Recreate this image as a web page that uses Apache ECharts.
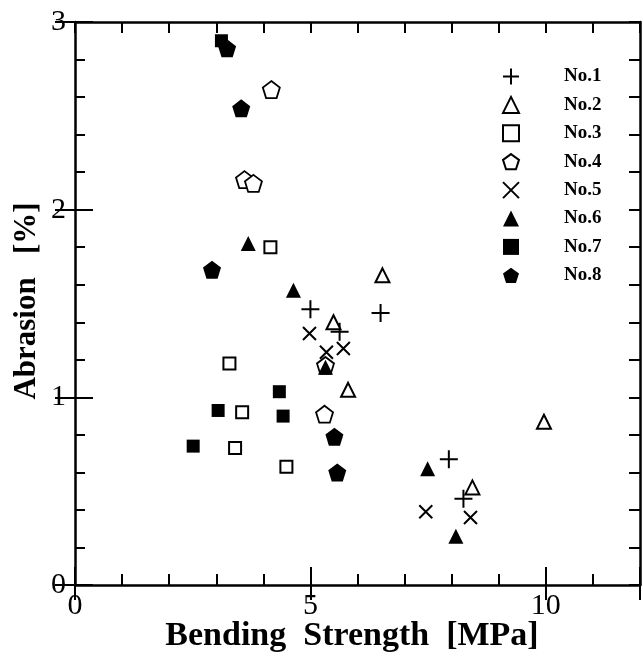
<!DOCTYPE html>
<html>
<head>
<meta charset="utf-8">
<script src="https://cdn.jsdelivr.net/npm/echarts@6/dist/echarts.min.js"></script>
<style>html,body{margin:0;padding:0;background:#fff}#c{width:643px;height:657px}</style>
</head>
<body>
<div id="c"></div>
<script>
// Data: [bending strength MPa, abrasion %]
const seriesNames = ['No.1','No.2','No.3','No.4','No.5','No.6','No.7','No.8'];
const no1 = [[5.00,1.47],[6.49,1.45],[5.62,1.35],[7.94,0.67],[8.25,0.46]];
const no2 = [[6.53,1.65],[5.49,1.40],[5.80,1.04],[9.96,0.87],[8.44,0.52]];
const no3 = [[4.15,1.80],[3.28,1.18],[3.55,0.92],[3.40,0.73],[4.49,0.63]];
const no4 = [[4.17,2.64],[3.60,2.16],[3.79,2.14],[5.32,1.17],[5.30,0.91]];
const no5 = [[4.98,1.34],[5.34,1.24],[5.70,1.26],[7.45,0.39],[8.40,0.36]];
const no6 = [[3.68,1.82],[4.64,1.57],[5.32,1.16],[7.49,0.62],[8.09,0.26]];
const no7 = [[3.11,2.90],[2.51,0.74],[3.04,0.93],[4.34,1.03],[4.42,0.90]];
const no8 = [[3.23,2.86],[3.53,2.54],[2.91,1.68],[5.51,0.79],[5.57,0.60]];
const xTickLabels = ['0','5','10'];
const yTickLabels = ['0','1','2','3'];

const seriesData = [no1,no2,no3,no4,no5,no6,no7,no8];
const PLUS = 'path://M0,5 L10,5 M5,0 L5,10';
const CROSS = 'path://M0,0 L10,10 M10,0 L0,10';
const PENT = 'path://M5,0 L10,3.63 L8.09,9.51 L1.91,9.51 L0,3.63 Z';
const styles = [
  {symbol: PLUS, size: 18, color: 'rgba(0,0,0,0)', border: 2},
  {symbol: 'triangle', size: 14, color: '#fff', border: 2},
  {symbol: 'rect', size: 12, color: '#fff', border: 2},
  {symbol: PENT, size: 17, color: '#fff', border: 1.8},
  {symbol: CROSS, size: 13, color: 'rgba(0,0,0,0)', border: 2},
  {symbol: 'triangle', size: 15, color: '#000', border: 0},
  {symbol: 'rect', size: 13, color: '#000', border: 0},
  {symbol: PENT, size: 18, color: '#000', border: 0}
];

const font = 'Liberation Serif';
const lineStyle = {color: '#000', width: 2.5};
const tickRich = {t: {fontFamily: font, fontSize: 30, color: '#000', lineHeight: 30}};
function intLabel(v){ return Math.abs(v - Math.round(v)) < 1e-6 ? String(Math.round(v)) : ''; }

const chart = echarts.init(document.getElementById('c'), null, {renderer: 'canvas'});
chart.setOption({
  animation: false,
  backgroundColor: '#fff',
  grid: {left: 75, right: 3, top: 22, bottom: 72},
  legend: {
    orient: 'vertical', left: 502, top: 67, padding: 0,
    itemWidth: 16, itemHeight: 16, itemGap: 9.4,
    data: seriesNames,
    textStyle: {fontFamily: font, fontWeight: 'bold', fontSize: 19, color: '#000',
      lineHeight: 16, padding: [0, 0, 0, 40]}
  },
  xAxis: [
    {type: 'value', position: 'bottom', min: 0, max: 12, interval: 1,
     axisLine: {onZero: false, lineStyle}, splitLine: {show: false},
     axisTick: {inside: true, length: 11, lineStyle: {width: 2, color: '#000'}},
     axisLabel: {margin: 6, fontFamily: font, fontSize: 30, color: '#000', rich: tickRich,
       formatter: v => xTickLabels.includes(String(v)) ? '{t|' + v + '}' : ''}},
    {type: 'value', position: 'bottom', min: 0, max: 12, interval: 5,
     axisLine: {show: false}, splitLine: {show: false}, axisLabel: {show: false},
     axisTick: {inside: true, length: 18, lineStyle: {width: 2, color: '#000'}}},
    {type: 'value', position: 'top', min: 0, max: 12, interval: 1,
     axisLine: {onZero: false, lineStyle}, splitLine: {show: false}, axisLabel: {show: false},
     axisTick: {inside: true, length: 11, lineStyle: {width: 2, color: '#000'}}},
    {type: 'value', position: 'top', min: 0, max: 12, interval: 5,
     axisLine: {show: false}, splitLine: {show: false}, axisLabel: {show: false},
     axisTick: {inside: true, length: 15, lineStyle: {width: 2, color: '#000'}}}
  ],
  yAxis: [
    {type: 'value', position: 'left', min: 0, max: 3, interval: 0.2,
     axisLine: {onZero: false, lineStyle}, splitLine: {show: false},
     axisTick: {inside: true, length: 10, lineStyle: {width: 2, color: '#000'}},
     axisLabel: {margin: 9, fontFamily: font, fontSize: 30, color: '#000', rich: tickRich,
       formatter: v => { const s = intLabel(v); return yTickLabels.includes(s) ? '{t|' + s + '}' : ''; }}},
    {type: 'value', position: 'left', min: 0, max: 3, interval: 1,
     axisLine: {show: false}, splitLine: {show: false}, axisLabel: {show: false},
     axisTick: {inside: true, length: 18, lineStyle: {width: 2, color: '#000'}}},
    {type: 'value', position: 'right', min: 0, max: 3, interval: 0.2,
     axisLine: {onZero: false, lineStyle}, splitLine: {show: false}, axisLabel: {show: false},
     axisTick: {inside: true, length: 11, lineStyle: {width: 2, color: '#000'}}},
    {type: 'value', position: 'right', min: 0, max: 3, interval: 1,
     axisLine: {show: false}, splitLine: {show: false}, axisLabel: {show: false},
     axisTick: {inside: true, length: 20, lineStyle: {width: 2, color: '#000'}}}
  ],
  graphic: [
    {type: 'text', x: 352, y: 636,
     style: {text: 'Bending  Strength  [MPa]', fontFamily: font, fontWeight: 'bold', fontSize: 34,
       fill: '#000', align: 'center', verticalAlign: 'middle'}},
    {type: 'text', x: 27, y: 301, rotation: Math.PI / 2,
     style: {text: 'Abrasion   [%]', fontFamily: font, fontWeight: 'bold', fontSize: 31, fill: '#000',
       align: 'center', verticalAlign: 'middle'}}
  ],
  series: seriesNames.map((name, i) => ({
    name, type: 'scatter', xAxisIndex: 0, yAxisIndex: 0,
    symbol: styles[i].symbol, symbolSize: styles[i].size,
    itemStyle: {color: styles[i].color, borderColor: '#000', borderWidth: styles[i].border, opacity: 1},
    data: seriesData[i]
  }))
});
</script>
</body>
</html>
